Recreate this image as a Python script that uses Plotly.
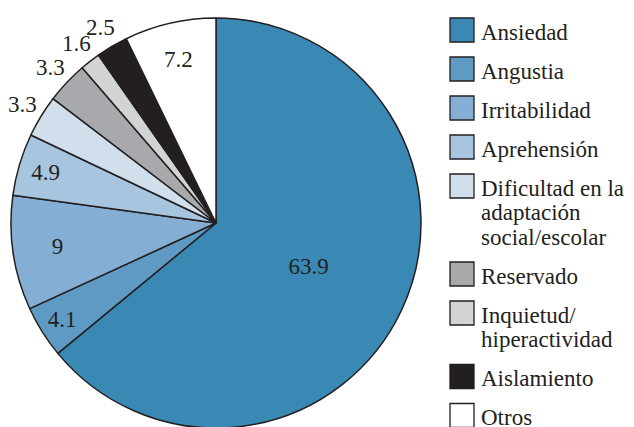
import math
import plotly.graph_objects as go

# ---- data ----
categories = ["Ansiedad", "Angustia", "Irritabilidad", "Aprehensión",
              "Dificultad en la<br>adaptación<br>social/escolar", "Reservado",
              "Inquietud/<br>hiperactividad", "Aislamiento", "Otros"]
values = [63.9, 4.1, 9, 4.9, 3.3, 3.3, 1.6, 2.5, 7.2]
value_labels = ["63.9", "4.1", "9", "4.9", "3.3", "3.3", "1.6", "2.5", "7.2"]
label_positions = ["inside", "inside", "inside", "inside",
                   "outside", "outside", "outside", "outside", "inside"]
colors = ["#3A89B5", "#5F9AC4", "#84AED3", "#A8C5DF", "#D1DFEC",
          "#A7A9AC", "#D1D3D4", "#231F20", "#FFFFFF"]

# ---- style / layout ----
W, H = 634, 427
OFF = 8  # page body margin
INK = "#231F20"
FONT = "Liberation Serif, Times New Roman, Times, serif"
FS = 23

# pie geometry (pixels, figure coordinates)
CX, CY, R = 216 - OFF, 223 - OFF, 205
OUT_R = R + 22   # centre radius of outside labels

plain_names = [c.replace("<br>", " ") for c in categories]

fig = go.Figure()
fig.add_trace(go.Pie(
    values=values, labels=plain_names, text=value_labels,
    textinfo="text",
    textposition=[p if p == "inside" else "none" for p in label_positions],
    sort=False, direction="clockwise", rotation=0,
    marker=dict(colors=colors, line=dict(color=INK, width=1.5)),
    textfont=dict(family=FONT, size=FS, color=INK),
    insidetextorientation="horizontal",
    showlegend=False, hoverinfo="label+value",
    domain=dict(x=[(CX - R) / W, (CX + R) / W],
                y=[(H - CY - R) / H, (H - CY + R) / H]),
))

annotations = []

# outside value labels, placed radially at each slice's mid-angle (no leader lines)
total = sum(values)
cum = 0.0
for v, lab, pos in zip(values, value_labels, label_positions):
    mid = (cum + v / 2) / total * 2 * math.pi
    cum += v
    if pos != "outside":
        continue
    annotations.append(dict(
        x=CX + OUT_R * math.sin(mid), y=CY - OUT_R * math.cos(mid),
        xref="x", yref="y", text=lab, showarrow=False,
        xanchor="center", yanchor="middle",
        font=dict(family=FONT, size=FS, color=INK)))

# custom legend (large square keys, tight multi-line labels)
LEG_TOP, LINE_H, ITEM_GAP = 32 - OFF, 24.5, 14.5
KEY_X, TEXT_X, KEY_DY = 462 - OFF, 479 - OFF, -2
row_y, line_items = [], []
y = LEG_TOP
for lbl in categories:
    lines = lbl.split("<br>")
    row_y.append(y + KEY_DY)
    for i, ln in enumerate(lines):
        line_items.append((ln, y + i * LINE_H))
    y += len(lines) * LINE_H + ITEM_GAP

fig.add_trace(go.Scatter(
    x=[KEY_X] * len(categories), y=row_y, mode="markers",
    marker=dict(symbol="square", size=24, color=colors,
                line=dict(color=INK, width=1.3)),
    showlegend=False, hoverinfo="skip", xaxis="x", yaxis="y",
))

annotations += [dict(x=TEXT_X, y=yy, xref="x", yref="y", text=t,
                     showarrow=False, xanchor="left", yanchor="middle",
                     font=dict(family=FONT, size=FS, color=INK))
                for t, yy in line_items]

fig.update_layout(
    width=W, height=H, margin=dict(l=0, r=0, t=0, b=0),
    paper_bgcolor="white", plot_bgcolor="rgba(0,0,0,0)",
    font=dict(family=FONT, color=INK),
    xaxis=dict(range=[0, W], visible=False, domain=[0, 1], fixedrange=True),
    yaxis=dict(range=[H, 0], visible=False, domain=[0, 1], fixedrange=True),
    annotations=annotations, showlegend=False,
)

fig.write_html("out.html")
